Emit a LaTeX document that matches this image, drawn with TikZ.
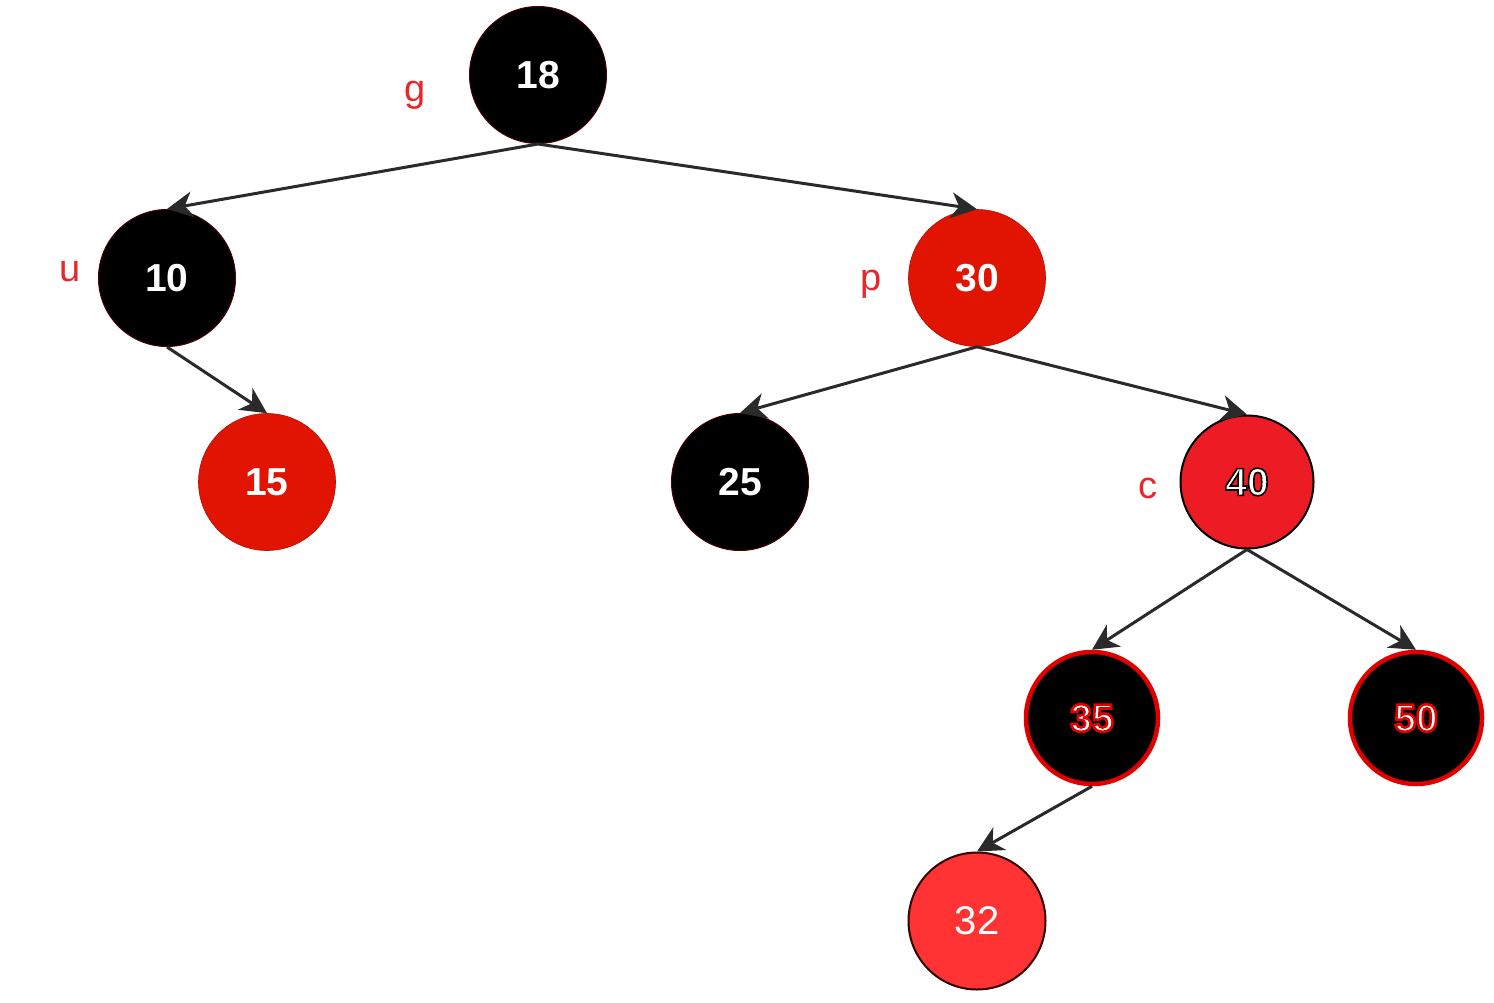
\documentclass[tikz,border=0pt]{standalone}
\usepackage{fontspec}
\setmainfont{Liberation Sans}
\usetikzlibrary{arrows.meta}
\definecolor{nred}{HTML}{E01400}
\definecolor{cred}{HTML}{ED1C24}
\definecolor{lred}{HTML}{FF3333}
\definecolor{ored}{HTML}{E00000}
\definecolor{lblred}{HTML}{E8262B}
\definecolor{edgec}{HTML}{2A2A2A}
\newcommand{\outlined}[3]{\special{pdf:literal direct 2 Tr #2 w #1 RG}#3\special{pdf:literal direct 0 Tr 1 w}}
\begin{document}
\begin{tikzpicture}[x=1pt,y=-1pt,
  rbnode/.style={circle,minimum size=137pt,inner sep=0pt,text=white,
    font=\fontsize{39}{44}\selectfont\bfseries},
  blk/.style={rbnode,fill=black,draw=black!70!red,line width=1pt},
  rd/.style={rbnode,fill=nred,draw=nred!80!black,line width=0.6pt},
  blkred/.style={rbnode,fill=black,draw=ored,line width=4.5pt,minimum size=132pt},
  lbl/.style={text=lblred,font=\fontsize{38}{44}\selectfont},
  edge/.style={draw=edgec,line width=3pt,-{Stealth[length=26pt,width=26pt,inset=8pt]}}]
\useasboundingbox (0,0) rectangle (1494,1002);
\node[blk] (n18) at (538,75) {18};
\node[blk] (n10) at (167,278) {10};
\node[rd] (n30) at (977,278) {30};
\node[rd] (n15) at (267,482) {15};
\node[blk] (n25) at (740,482) {25};
\node[rbnode,fill=cred,draw=black,line width=2pt,minimum size=133pt] (n40) at (1247,482) {\outlined{0 0 0}{1.6}{40}};
\node[blkred] (n35) at (1092,718) {\outlined{0.9 0 0}{2.6}{35}};
\node[blkred] (n50) at (1416,718) {\outlined{0.9 0 0}{2.6}{50}};
\node[rbnode,fill=lred,draw=black!80!red,line width=2pt,font=\fontsize{40}{44}\selectfont] (n32) at (977,921) {32};
\node[lbl] (lg) at (415,95) {g};
\node[lbl] (lu) at (70,272) {u};
\node[lbl] (lp) at (871,284) {p};
\node[lbl] (lc) at (1148,488) {c};
\draw[edge] (n18.south) -- (n10.north);
\draw[edge] (n18.south) -- (n30.north);
\draw[edge] (n10.south) -- (n15.north);
\draw[edge] (n30.south) -- (n25.north);
\draw[edge] (n30.south) -- (n40.north);
\draw[edge] (n40.south) -- (n35.north);
\draw[edge] (n40.south) -- (n50.north);
\draw[edge] (n35.south) -- (n32.north);
\end{tikzpicture}
\end{document}
